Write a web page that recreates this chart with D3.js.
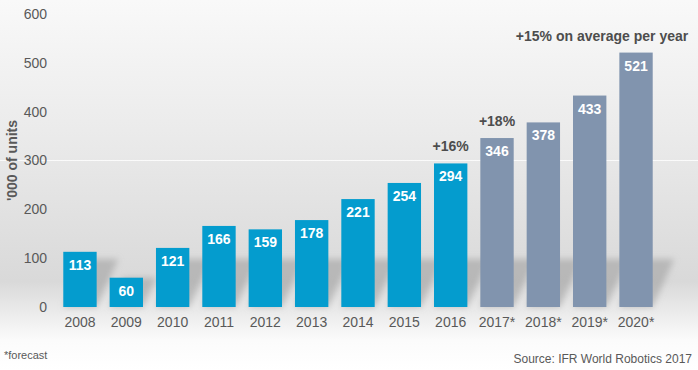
<!DOCTYPE html>
<html lang="en">
<head>
    <meta charset="UTF-8">
    <title>Robot installations</title>
    <script src="https://cdn.jsdelivr.net/npm/d3@7"></script>
    <style>
        body { margin: 0; }
        svg { font-family: "Liberation Sans", Arial, sans-serif; display: block; }
    </style>
</head>
<body>
<svg width="698" height="370"></svg>
<script>
    var YEARS = ['2008', '2009', '2010', '2011', '2012', '2013', '2014', '2015', '2016', '2017*', '2018*', '2019*', '2020*'];
    var UNITS = [113, 60, 121, 166, 159, 178, 221, 254, 294, 346, 378, 433, 521];
    var FORECAST = [false, false, false, false, false, false, false, false, false, true, true, true, true];
    var Y_TICKS = [0, 100, 200, 300, 400, 500, 600];
    var NOTES = [
        {year: '2016', value: 294, text: '+16%'},
        {year: '2017*', value: 346, text: '+18%'},
        {year: '2020*', value: 521, text: '+15% on average per year'}
    ];

    var svg = d3.select('svg');
    var defs = svg.append('defs');

    // background: light top, darker around the bars, white at the bottom
    var bg = defs.append('linearGradient').attr('id', 'bg')
        .attr('x1', 0).attr('y1', 0).attr('x2', 0).attr('y2', 1);
    bg.append('stop').attr('offset', '0%').attr('stop-color', '#f9f9f9');
    bg.append('stop').attr('offset', '40%').attr('stop-color', '#e9e9e9');
    bg.append('stop').attr('offset', '76%').attr('stop-color', '#d9d9d9');
    bg.append('stop').attr('offset', '92%').attr('stop-color', '#fbfbfb');
    bg.append('stop').attr('offset', '100%').attr('stop-color', '#ffffff');
    svg.append('rect').attr('width', 698).attr('height', 370).attr('fill', 'url(#bg)');

    defs.append('filter').attr('id', 'blur')
        .attr('x', '-50%').attr('y', '-50%').attr('width', '200%').attr('height', '200%')
        .append('feGaussianBlur').attr('stdDeviation', 3);

    var x = d3.scaleBand()
        .domain(YEARS)
        .range([56.8, 659.2])
        .paddingInner(0.28)
        .paddingOuter(0.14);

    var y = d3.scaleLinear()
        .domain([0, 600])
        .range([307, 14]);

    // faint line at 300
    svg.append('line')
        .attr('x1', 0).attr('x2', 698)
        .attr('y1', y(300)).attr('y2', y(300))
        .attr('stroke', '#ffffff').attr('stroke-opacity', 0.8);

    // y axis tick labels
    var yAxis = svg.append('g')
        .attr('transform', 'translate(47,0)')
        .call(d3.axisLeft(y).tickValues(Y_TICKS).tickSize(0).tickPadding(0));
    yAxis.select('.domain').remove();
    yAxis.selectAll('text')
        .attr('font-family', '"Liberation Sans", Arial, sans-serif')
        .attr('font-size', 14).attr('fill', '#595959');

    svg.append('text')
        .attr('transform', 'translate(17,' + y(300) + ') rotate(-90)')
        .attr('text-anchor', 'middle')
        .attr('font-size', 14).attr('font-weight', 'bold').attr('fill', '#595959')
        .text("'000 of units");

    var data = YEARS.map(function (d, i) {
        return {year: d, value: UNITS[i], forecast: FORECAST[i]};
    });

    // diagonal shadows behind bars
    svg.append('g')
        .attr('filter', 'url(#blur)')
        .selectAll('polygon')
        .data(data)
        .enter().append('polygon')
        .attr('points', function (d) {
            var x0 = x(d.year), x1 = x0 + x.bandwidth();
            var h = Math.min(y(0) - y(d.value), 48);
            var dx = h * 0.45;
            return [[x0, y(0)], [x1, y(0)], [x1 + dx, y(0) - h], [x0 + dx, y(0) - h]].join(' ');
        })
        .attr('fill', '#9a9a9a')
        .attr('fill-opacity', 0.55);

    svg.append('g')
        .selectAll('rect')
        .data(data)
        .enter().append('rect')
        .attr('x', function (d) { return x(d.year); })
        .attr('y', function (d) { return y(d.value); })
        .attr('width', x.bandwidth())
        .attr('height', function (d) { return y(0) - y(d.value); })
        .attr('fill', function (d) { return d.forecast ? '#8194ae' : '#049cce'; });

    svg.append('g')
        .selectAll('text')
        .data(data)
        .enter().append('text')
        .attr('x', function (d) { return x(d.year) + x.bandwidth() / 2; })
        .attr('y', function (d) { return y(d.value) + 18; })
        .attr('text-anchor', 'middle')
        .attr('font-size', 14).attr('font-weight', 'bold').attr('fill', '#ffffff')
        .text(function (d) { return d.value; });

    // x axis labels
    var xAxis = svg.append('g')
        .attr('transform', 'translate(0,' + (y(0) + 10) + ')')
        .call(d3.axisBottom(x).tickSize(0).tickPadding(0));
    xAxis.select('.domain').remove();
    xAxis.selectAll('text')
        .attr('font-family', '"Liberation Sans", Arial, sans-serif')
        .attr('font-size', 14).attr('fill', '#595959');

    svg.append('g')
        .selectAll('text')
        .data(NOTES)
        .enter().append('text')
        .attr('x', function (d, i) {
            return x(d.year) + x.bandwidth() / 2 + (i === 2 ? -34 : 0);
        })
        .attr('y', function (d) { return y(d.value) - 12; })
        .attr('text-anchor', 'middle')
        .attr('font-size', 14).attr('font-weight', 'bold').attr('fill', '#4d4d4d')
        .text(function (d) { return d.text; });

    svg.append('text')
        .attr('x', 4).attr('y', 359)
        .attr('font-size', 11).attr('fill', '#595959')
        .text('*forecast');

    svg.append('text')
        .attr('x', 692).attr('y', 363)
        .attr('text-anchor', 'end')
        .attr('font-size', 12).attr('fill', '#595959')
        .text('Source: IFR World Robotics 2017');
</script>
</body>
</html>
